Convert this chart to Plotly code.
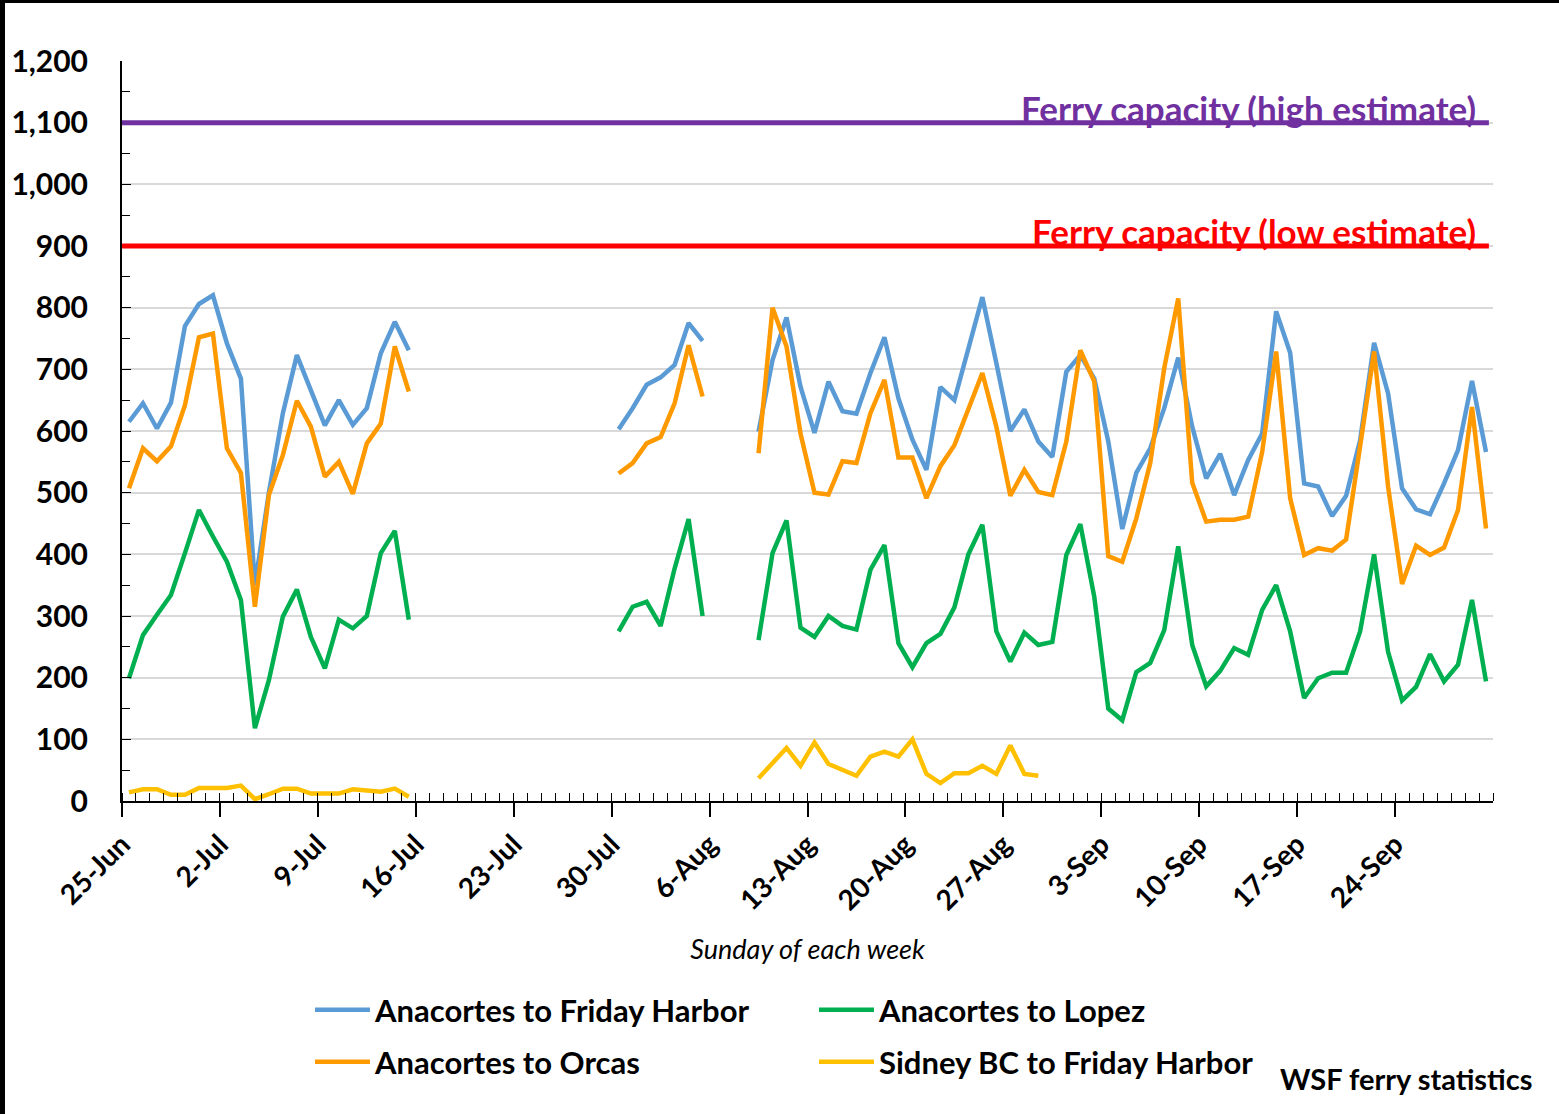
import pandas as pd
import plotly.graph_objects as go

# ---------------- data ----------------
dates = pd.date_range("2017-06-25", "2017-09-30", freq="D")  # 98 days

GAP_A = [None] * 14   # 16-Jul .. 29-Jul
GAP_B = [None] * 3    # 6-Aug .. 8-Aug

friday_harbor = ([615, 645, 604, 646, 770, 806, 820, 742, 685, 350, 500, 629, 723, 664, 609, 650, 610, 637, 726, 777, 731]
                 + GAP_A + [603, 637, 675, 687, 707, 775, 746] + GAP_B +
                 [599, 715, 784, 672, 597, 680, 632, 628, 694, 752, 653, 586, 537, 671, 650, 737, 817, 710, 600, 635,
                  583, 558, 696, 723, 685, 583, 441, 532, 572, 637, 719, 607, 523, 563, 496, 553, 596, 794, 727, 515,
                  510, 462, 495, 585, 743, 661, 507, 473, 465, 515, 569, 681, 566])

orcas = ([507, 572, 551, 575, 642, 752, 758, 572, 532, 315, 496, 561, 649, 607, 526, 550, 498, 580, 612, 737, 664]
         + GAP_A + [531, 548, 580, 590, 645, 739, 656] + GAP_B +
         [564, 800, 737, 596, 500, 497, 551, 548, 629, 683, 557, 557, 491, 543, 577, 637, 694, 607, 495, 537,
          501, 496, 583, 731, 680, 397, 388, 458, 548, 702, 815, 516, 453, 456, 456, 461, 566, 729, 491, 399,
          410, 406, 424, 575, 729, 510, 352, 414, 399, 411, 472, 639, 442])

lopez = ([199, 269, 302, 334, 402, 472, 429, 388, 326, 118, 196, 299, 343, 266, 215, 294, 280, 300, 402, 438, 294]
         + GAP_A + [275, 315, 323, 284, 377, 457, 300] + GAP_B +
         [261, 402, 455, 281, 266, 300, 284, 278, 375, 415, 256, 217, 256, 271, 314, 400, 448, 275, 226, 273,
          253, 258, 399, 449, 331, 150, 131, 209, 224, 277, 413, 253, 186, 211, 248, 237, 310, 350, 275, 167,
          199, 208, 208, 275, 400, 242, 163, 185, 238, 194, 221, 326, 194])

sidney = ([14, 19, 19, 10, 10, 21, 21, 21, 25, 3, 11, 20, 20, 12, 12, 12, 19, 17, 15, 20, 7]
          + GAP_A + [None] * 7 + GAP_B +
          [37, 61, 86, 57, 95, 60, 50, 41, 72, 80, 72, 100, 44, 29, 45, 45, 57, 44, 90, 44, 41]
          + [None] * 32)

CAP_HIGH = 1100
CAP_LOW = 900

tick_dates = pd.date_range("2017-06-25", "2017-09-24", freq="7D")
tick_labels = ["25-Jun", "2-Jul", "9-Jul", "16-Jul", "23-Jul", "30-Jul", "6-Aug",
               "13-Aug", "20-Aug", "27-Aug", "3-Sep", "10-Sep", "17-Sep", "24-Sep"]
y_ticks = [0, 100, 200, 300, 400, 500, 600, 700, 800, 900, 1000, 1100, 1200]

# ---------------- style ----------------
FONT = "Lato"
C_BLUE = "#5B9BD5"
C_ORANGE = "#FF9900"
C_GREEN = "#00B050"
C_YELLOW = "#FFC000"
C_PURPLE = "#7030A0"
C_RED = "#FF0000"

W, H = 1559, 1114
ML, MR, MT, MB = 122, 66, 61, 313
PW, PH = W - ML - MR, H - MT - MB

fig = go.Figure()

series = [
    ("Anacortes to Friday Harbor", friday_harbor, C_BLUE, "legend"),
    ("Anacortes to Lopez", lopez, C_GREEN, "legend"),
    ("Anacortes to Orcas", orcas, C_ORANGE, "legend2"),
    ("Sidney BC to Friday Harbor", sidney, C_YELLOW, "legend2"),
]
for name, vals, col, leg in series:
    fig.add_trace(go.Scatter(
        x=dates, y=vals, name=name, mode="lines",
        line=dict(color=col, width=4.5), connectgaps=False,
        xperiod=86400000, xperiodalignment="middle",
        legend=leg,
    ))

# capacity lines
for val, col, txt in [(CAP_HIGH, C_PURPLE, "Ferry capacity (high estimate)"),
                      (CAP_LOW, C_RED, "Ferry capacity (low estimate)")]:
    fig.add_shape(type="line", xref="paper", yref="y", x0=0, x1=0.997, y0=val, y1=val,
                  line=dict(color=col, width=5), layer="above")
    fig.add_annotation(x=(1478 - ML) / PW, xref="paper", y=val, yref="y",
                       xanchor="right", yanchor="bottom", yshift=-8, showarrow=False,
                       text=txt, font=dict(family=FONT, size=35, color=col, weight="bold"))

# frame (left and top dark edges)
fx0, fx1 = -ML / PW, (W - ML) / PW
fy0, fy1 = -MB / PH, (H - MB) / PH
fig.add_shape(type="rect", xref="paper", yref="paper", x0=fx0, x1=fx0 + 5 / PW, y0=fy0, y1=fy1,
              fillcolor="#000000", line=dict(width=0))
fig.add_shape(type="rect", xref="paper", yref="paper", x0=fx0, x1=fx1, y0=fy1 - 3 / PH, y1=fy1,
              fillcolor="#000000", line=dict(width=0))

fig.add_annotation(x=(1535 - ML) / PW, xref="paper", y=(H - MB - 1078) / PH, yref="paper",
                   text="WSF ferry statistics", showarrow=False, xanchor="right", yanchor="middle",
                   font=dict(family=FONT, size=29, color="black", weight="bold"))

legend_common = dict(orientation="h", x=(310 - ML) / PW, xanchor="left", yanchor="middle",
                     font=dict(family=FONT, size=31, color="black", weight="bold"),
                     entrywidth=434, itemwidth=55, bgcolor="rgba(0,0,0,0)", traceorder="normal")

fig.update_layout(
    width=W, height=H,
    margin=dict(l=ML, r=MR, t=MT, b=MB),
    paper_bgcolor="white", plot_bgcolor="white",
    font=dict(family=FONT, color="black"),
    legend=dict(legend_common, y=(H - MB - 1010) / PH),
    legend2=dict(legend_common, y=(H - MB - 1062) / PH),
    xaxis=dict(
        type="date", range=["2017-06-25", "2017-10-01"],
        tickvals=tick_dates, ticktext=tick_labels,
        tickangle=-45, tickfont=dict(family=FONT, size=28, color="black", weight="bold"),
        ticks="outside", ticklen=14, tickwidth=2, tickcolor="black",
        showline=True, linecolor="black", linewidth=2, showgrid=False, zeroline=False,
        minor=dict(ticks="inside", ticklen=8, tickwidth=1, tickcolor="black", dtick=86400000,
                   tick0="2017-06-25", showgrid=False),
        title=dict(text="Sunday of each week",
                   font=dict(family=FONT, size=27, color="black", style="italic"),
                   standoff=25),
    ),
    yaxis=dict(
        range=[0, 1200], tickvals=y_ticks, ticktext=[f"{v:,}" for v in y_ticks],
        tickfont=dict(family=FONT, size=30, color="black", weight="bold"),
        ticks="inside", ticklen=9, tickwidth=1, tickcolor="black",
        showline=True, linecolor="black", linewidth=2,
        showgrid=True, gridcolor="#D9D9D9", gridwidth=1.5, zeroline=False,
        minor=dict(ticks="inside", ticklen=8, tickwidth=1, tickcolor="black", dtick=50, tick0=0, showgrid=False),
        ticklabelstandoff=26,
    ),
)

fig.write_html("out.html", config={"displayModeBar": False},
               post_script="document.body.style.margin='0px';")
